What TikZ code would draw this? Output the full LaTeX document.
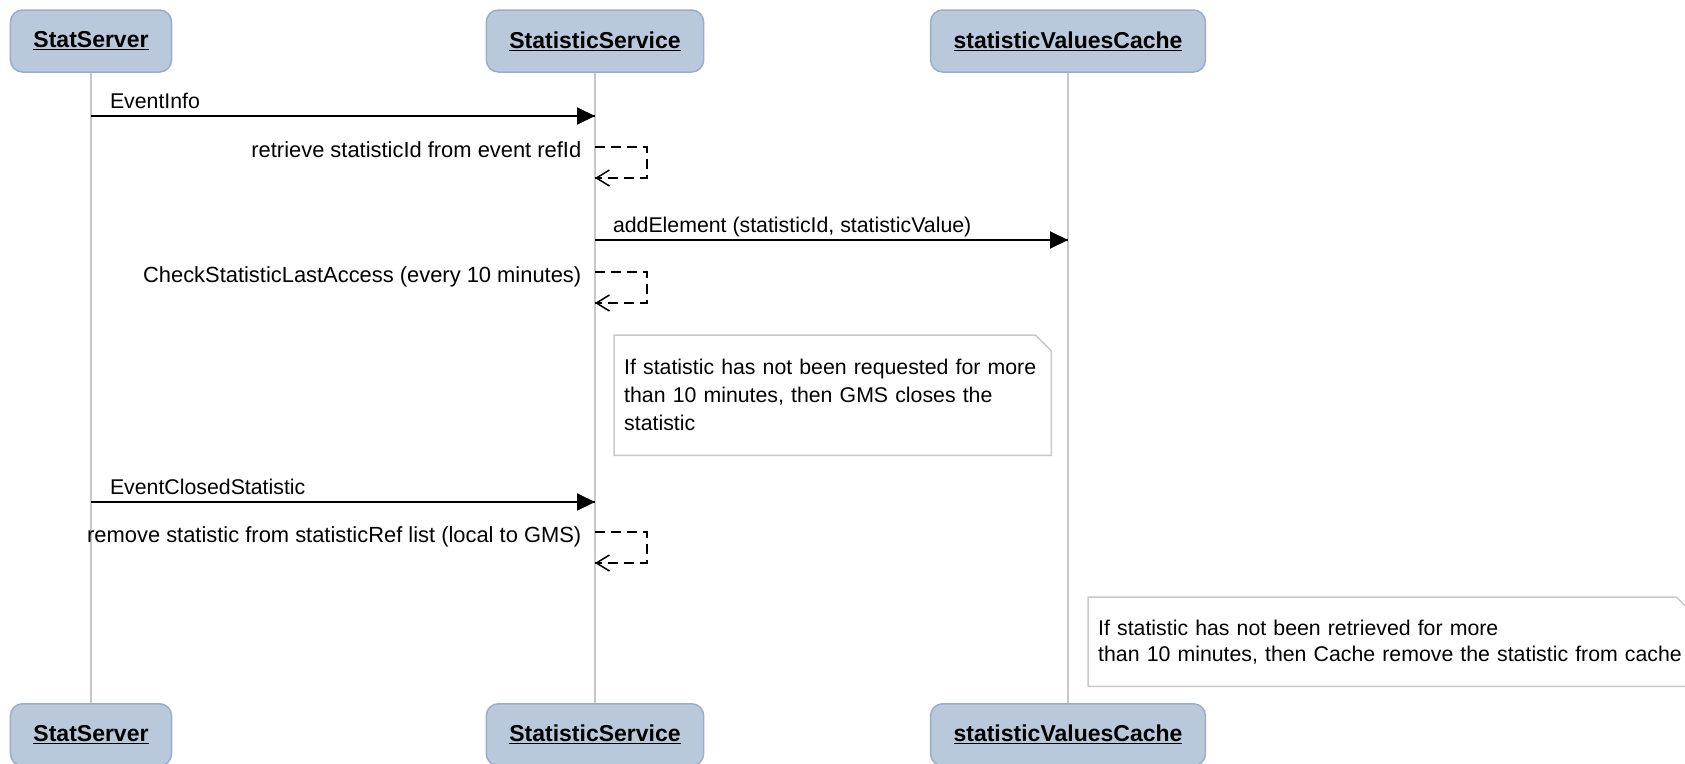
\documentclass[tikz,border=0pt]{standalone}
\usepackage{fontspec}
\setmainfont{Liberation Sans}
\usetikzlibrary{decorations.markings,arrows.meta}
\definecolor{objfill}{HTML}{B9C9DB}
\definecolor{objline}{HTML}{9AAECB}
\definecolor{lifegray}{HTML}{C8C8C8}
\newcommand{\msgfont}{\fontsize{21.3}{28}\selectfont}

\begin{document}
\begin{tikzpicture}[x=1pt, y=-1pt,
  obj/.style={draw=objline, fill=objfill, line width=1.5pt, rounded corners=12pt, minimum height=62pt, inner xsep=23pt, font=\fontsize{23}{27}\selectfont\bfseries},
  lifeline/.style={draw=lifegray, line width=1.5pt},
  msg/.style={line width=2pt, decoration={markings,mark=at position 1 with {\arrow{Triangle[length=18pt,width=17pt]}}},postaction={decorate}},
  reply/.style={line width=1.5pt, dash pattern=on 10pt off 6pt, decoration={markings,mark=at position 1 with {\arrow{Straight Barb[length=13pt,width=16pt]}}},postaction={decorate}},
  lbl/.style={anchor=base west, inner sep=0pt, xshift=18pt, yshift=8pt, font=\msgfont},
  selflbl/.style={anchor=base east, inner sep=0pt, xshift=-13pt, yshift=-10pt, font=\fontsize{21.9}{28}\selectfont},
  note/.style={fill=white, anchor=north west, inner xsep=10pt, align=left, font=\msgfont},
  noteline/.style={draw=lifegray, line width=1.5pt}]
\useasboundingbox (0,0) rectangle (1685,763);

\node[obj] (srv) at (91,41) {\underline{StatServer}};
\node[obj] (svc) at (595,41) {\underline{StatisticService}};
\node[obj] (cache) at (1068,41) {\underline{statisticValuesCache}};
\node[obj, anchor=north] (srv2) at (91,703) {\underline{StatServer}};
\node[obj, anchor=north] (svc2) at (595,703) {\underline{StatisticService}};
\node[obj, anchor=north] (cache2) at (1068,703) {\underline{statisticValuesCache}};

\draw[lifeline] (srv.south) -- (srv2.north);
\draw[lifeline] (svc.south) -- (svc2.north);
\draw[lifeline] (cache.south) -- (cache2.north);

\coordinate (a1) at (srv |- 0,116);
\coordinate (b1) at (svc |- 0,116);
\draw[msg] (a1) node[lbl] {EventInfo} -- (b1);

\coordinate (r1) at (svc |- 0,147);
\coordinate (r1e) at (svc |- 0,178);
\draw[reply] (r1) node[selflbl] {retrieve statisticId from event refId} -- ++(52,0) |- (r1e);

\coordinate (a2) at (svc |- 0,240);
\coordinate (b2) at (cache |- 0,240);
\draw[msg] (a2) node[lbl, xshift=-1pt] {addElement (statisticId, statisticValue)} -- (b2);

\coordinate (r2) at (svc |- 0,272);
\coordinate (r2e) at (svc |- 0,303);
\draw[reply] (r2) node[selflbl] {CheckStatisticLastAccess (every 10 minutes)} -- ++(52,0) |- (r2e);

\node[note, text width=417pt, minimum height=120pt] (n1) at (614,335) {If statistic has not been requested for more\\than 10 minutes, then GMS closes the\\statistic};

\coordinate (a3) at (srv |- 0,502);
\coordinate (b3) at (svc |- 0,502);
\draw[msg] (a3) node[lbl] {EventClosedStatistic} -- (b3);

\coordinate (r3) at (svc |- 0,532);
\coordinate (r3e) at (svc |- 0,563);
\draw[reply] (r3) node[selflbl] {remove statistic from statisticRef list (local to GMS)} -- ++(52,0) |- (r3e);

\node[note, text width=584pt, minimum height=89pt, font=\fontsize{21.3}{26}\selectfont] (n2) at (1088,597) {If statistic has not been retrieved for more\\than 10 minutes, then Cache remove the statistic from cache};

\foreach \n in {n1,n2}
  \draw[noteline] (\n.south west) -- (\n.north west) -- ([xshift=-16pt]\n.north east) -- ([yshift=-16pt]\n.north east) -- (\n.south east) -- cycle;
\end{tikzpicture}
\end{document}
